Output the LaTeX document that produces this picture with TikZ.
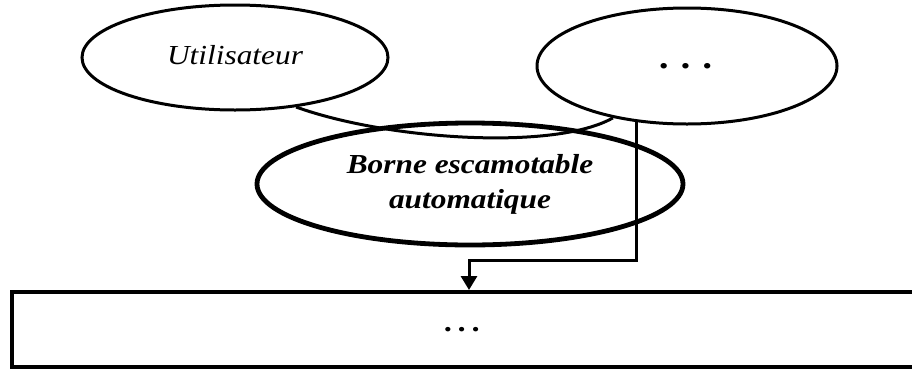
\documentclass[tikz,border=0pt]{standalone}
\usepackage{fontspec}
\setmainfont{Liberation Serif}[FakeStretch=1.14]
\usetikzlibrary{shapes.geometric,arrows.meta}
\tikzset{
  ell/.style={ellipse, draw=black, line width=3pt, inner sep=0pt},
  mainell/.style={ellipse, draw=black, line width=4.8pt, inner sep=0pt},
  box/.style={rectangle, draw=black, line width=4pt, inner sep=0pt},
  link/.style={draw=black, line width=3pt},
  arr/.style={draw=black, line width=3pt, -{Triangle[length=14pt,width=16pt]}},
  txt/.style={font=\fontsize{27.5}{35}\selectfont\itshape, align=center},
  dots/.style={font=\fontsize{34}{35}\selectfont\bfseries\itshape}
}
\begin{document}
\begin{tikzpicture}[x=1pt,y=-1pt]
\useasboundingbox (0,0) rectangle (912,370);
\node[ell, txt, minimum width=306pt, minimum height=105pt] (U) at (235,57.5) {\raisebox{5pt}{Utilisateur}};
\node[ell, dots, minimum width=300pt, minimum height=116pt] (D) at (687,66) {.\hspace{12pt}.\hspace{12pt}.};
\node[mainell, txt, font=\fontsize{27.5}{35}\selectfont\bfseries\itshape, minimum width=426pt, minimum height=122pt] (B) at (470,184) {\raisebox{3pt}{\begin{tabular}{c}Borne escamotable\\automatique\end{tabular}}};
\node[box, dots, font=\fontsize{28}{35}\selectfont\bfseries\itshape, minimum width=902pt, minimum height=75pt] (R) at (463,329.5) {.\hspace{6pt}.\hspace{6pt}.};
\coordinate (turn) at (469,260);
\draw[link] (U.-39) .. controls +(92,33) and +(-58,33) .. (D.-145);
\draw[arr] (D.-132) |- (turn) -- (turn |- R.north);
\end{tikzpicture}
\end{document}
